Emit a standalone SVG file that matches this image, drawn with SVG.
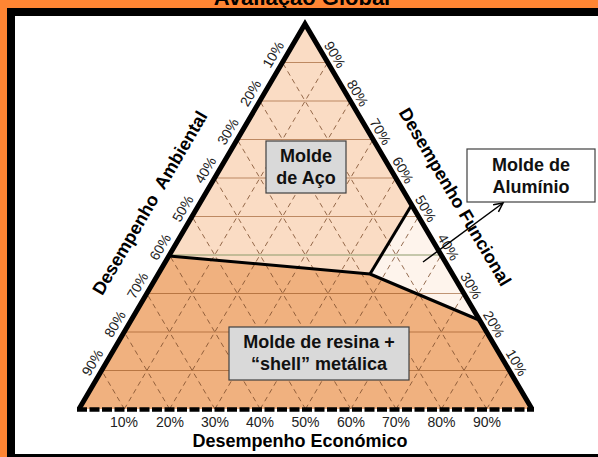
<svg xmlns="http://www.w3.org/2000/svg" width="598" height="457" viewBox="0 0 598 457">
<style>
.pct{font-family:"Liberation Sans",Arial,sans-serif;font-size:14px;fill:#222;text-anchor:middle}
.ttl{font-family:"Liberation Sans",Arial,sans-serif;font-size:18px;font-weight:bold;fill:#000;text-anchor:middle}
.bx{font-family:"Liberation Sans",Arial,sans-serif;font-size:18px;font-weight:bold;fill:#111;text-anchor:middle}
.hl{stroke:#8B4513;stroke-opacity:0.55;stroke-width:1;fill:none}
.dl{stroke:#7A4A2A;stroke-width:0.8;stroke-dasharray:5 4;fill:none}
.bd{stroke:#000;stroke-width:3;fill:none;stroke-linejoin:round}
</style>
<defs>
<marker id="ah" markerWidth="12" markerHeight="12" refX="10" refY="5" orient="auto" markerUnits="userSpaceOnUse">
<path d="M1,0.5 L10,5 L1,9.5" fill="none" stroke="#000" stroke-width="1.5"/>
</marker>
</defs>
<rect x="0" y="0" width="598" height="457" fill="#FF8533"/>
<text x="302" y="5" font-family="Liberation Sans,Arial,sans-serif" font-size="22" font-weight="bold" text-anchor="middle" fill="#000">Avaliação Global</text>
<rect x="7" y="8" width="591" height="449" fill="#000"/>
<rect x="15" y="16" width="583" height="438" fill="#fff"/>

<g id="regiao-aco"><polygon points="305,24 169,256 370,274 411,206" fill="#FADCC4"/></g>
<g id="regiao-aluminio"><polygon points="370,274 411,206 479,320" fill="#FEF4EC"/></g>
<g id="regiao-resina"><polygon points="169,256 370,274 479,320 532,409 79,409" fill="#F0B17F"/></g>

<g id="grelha">
<line class="hl" x1="101.6" y1="370.5" x2="509.3" y2="370.5"/>
<line class="hl" x1="124.2" y1="332" x2="486.6" y2="332"/>
<line class="hl" x1="146.8" y1="293.5" x2="463.9" y2="293.5"/>
<line x1="169.4" y1="255" x2="441.2" y2="255" stroke="#8C9A6A" stroke-width="1"/>
<line class="hl" x1="192" y1="216.5" x2="418.5" y2="216.5"/>
<line class="hl" x1="214.6" y1="178" x2="395.8" y2="178"/>
<line class="hl" x1="237.2" y1="139.5" x2="373.1" y2="139.5"/>
<line class="hl" x1="259.8" y1="101" x2="350.4" y2="101"/>
<line class="hl" x1="282.4" y1="62.5" x2="327.7" y2="62.5"/>
<line class="dl" x1="124.3" y1="409" x2="327.7" y2="62.5"/>
<line class="dl" x1="169.6" y1="409" x2="350.4" y2="101"/>
<line class="dl" x1="214.9" y1="409" x2="373.1" y2="139.5"/>
<line class="dl" x1="260.2" y1="409" x2="395.8" y2="178"/>
<line class="dl" x1="305.5" y1="409" x2="418.5" y2="216.5"/>
<line class="dl" x1="350.8" y1="409" x2="441.2" y2="255"/>
<line class="dl" x1="396.1" y1="409" x2="463.9" y2="293.5"/>
<line class="dl" x1="441.4" y1="409" x2="486.6" y2="332"/>
<line class="dl" x1="486.7" y1="409" x2="509.3" y2="370.5"/>
<line class="dl" x1="124.3" y1="409" x2="101.6" y2="370.5"/>
<line class="dl" x1="169.6" y1="409" x2="124.2" y2="332"/>
<line class="dl" x1="214.9" y1="409" x2="146.8" y2="293.5"/>
<line class="dl" x1="260.2" y1="409" x2="169.4" y2="255"/>
<line class="dl" x1="305.5" y1="409" x2="192" y2="216.5"/>
<line class="dl" x1="350.8" y1="409" x2="214.6" y2="178"/>
<line class="dl" x1="396.1" y1="409" x2="237.2" y2="139.5"/>
<line class="dl" x1="441.4" y1="409" x2="259.8" y2="101"/>
<line class="dl" x1="486.7" y1="409" x2="282.4" y2="62.5"/>
</g>

<g id="fronteiras">
<polyline class="bd" points="169,256 370,274 479,320"/>
<line class="bd" x1="370" y1="274" x2="411" y2="206"/>
</g>

<g id="triangulo">
<polyline points="79,409 305,24 532,409" fill="none" stroke="#000" stroke-width="5" stroke-linejoin="miter" stroke-miterlimit="4"/>
<line x1="77" y1="409.5" x2="534" y2="409.5" stroke="#000" stroke-width="4.5" stroke-dasharray="10 2.5"/>
</g>

<g id="eixo-ambiental">
<g class="pct">
<text transform="translate(273.1,54.5) rotate(-59.6)" dy="5">10%</text>
<text transform="translate(250.5,93) rotate(-59.6)" dy="5">20%</text>
<text transform="translate(227.9,131.5) rotate(-59.6)" dy="5">30%</text>
<text transform="translate(205.3,170) rotate(-59.6)" dy="5">40%</text>
<text transform="translate(182.7,208.5) rotate(-59.6)" dy="5">50%</text>
<text transform="translate(160.1,247) rotate(-59.6)" dy="5">60%</text>
<text transform="translate(137.5,285.5) rotate(-59.6)" dy="5">70%</text>
<text transform="translate(114.9,324) rotate(-59.6)" dy="5">80%</text>
<text transform="translate(92.3,362.5) rotate(-59.6)" dy="5">90%</text>
</g>
<text class="ttl" transform="translate(150,203) rotate(-59.6)" dy="6" xml:space="preserve">Desempenho  Ambiental</text>
</g>

<g id="eixo-funcional">
<g class="pct">
<text transform="translate(335,54.5) rotate(59.5)" dy="5">90%</text>
<text transform="translate(357.7,93) rotate(59.5)" dy="5">80%</text>
<text transform="translate(380.4,131.5) rotate(59.5)" dy="5">70%</text>
<text transform="translate(403.1,170) rotate(59.5)" dy="5">60%</text>
<text transform="translate(425.8,208.5) rotate(59.5)" dy="5">50%</text>
<text transform="translate(448.5,247) rotate(59.5)" dy="5">40%</text>
<text transform="translate(471.2,285.5) rotate(59.5)" dy="5">30%</text>
<text transform="translate(493.9,324) rotate(59.5)" dy="5">20%</text>
<text transform="translate(516.6,362.5) rotate(59.5)" dy="5">10%</text>
</g>
<text class="ttl" transform="translate(455,197) rotate(59.5)" dy="6">Desempenho Funcional</text>
</g>

<g id="eixo-economico">
<g class="pct">
<text x="124" y="427">10%</text>
<text x="170" y="427">20%</text>
<text x="215" y="427">30%</text>
<text x="260" y="427">40%</text>
<text x="305.5" y="427">50%</text>
<text x="351" y="427">60%</text>
<text x="396" y="427">70%</text>
<text x="441.5" y="427">80%</text>
<text x="487" y="427">90%</text>
</g>
<text class="ttl" x="300" y="447">Desempenho Económico</text>
</g>

<g id="molde-aco">
<rect x="266" y="141" width="80" height="52" fill="#D9D9D9" stroke="#404040" stroke-width="1.2"/>
<text class="bx" x="306" y="162">Molde</text>
<text class="bx" x="306" y="184">de Aço</text>
</g>

<g id="molde-aluminio">
<rect x="467" y="149" width="128" height="53" fill="#fff" stroke="#404040" stroke-width="1.2"/>
<text class="bx" x="531" y="171">Molde de</text>
<text class="bx" x="531" y="193">Alumínio</text>
</g>

<g id="molde-resina">
<rect x="229" y="327" width="180" height="53" fill="#D9D9D9" stroke="#404040" stroke-width="1.2"/>
<text class="bx" x="319" y="348">Molde de resina +</text>
<text class="bx" x="319" y="370">“shell” metálica</text>
</g>

<g id="conectores">
<line x1="423" y1="262" x2="503" y2="203" stroke="#000" stroke-width="1.5" marker-end="url(#ah)"/>
</g>
</svg>
